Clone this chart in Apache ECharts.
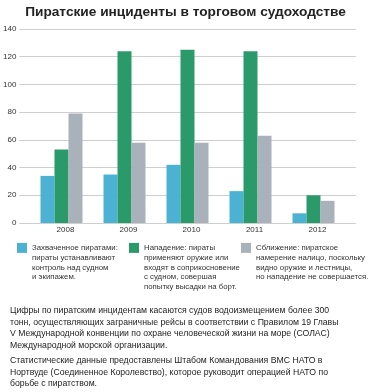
<!DOCTYPE html>
<html><head><meta charset="utf-8">
<script src="https://cdn.jsdelivr.net/npm/echarts@6/dist/echarts.min.js"></script>
<style>html,body{margin:0;padding:0;background:#fff}#c{width:371px;height:392px}</style>
</head><body><div id="c"></div>
<script>
const categories = ['2008', '2009', '2010', '2011', '2012'];
const seized = [34, 35, 42, 23, 7];
const attacked = [53, 124, 125, 124, 20];
const approached = [79, 58, 58, 63, 16];
const yTicks = [0, 20, 40, 60, 80, 100, 120, 140];

const names = ['Захваченное пиратами', 'Нападение', 'Сближение'];
const legendTexts = [
  'Захваченное пиратами:\nпираты устанавливают\nконтроль над судном\nи экипажем.',
  'Нападение: пираты\nприменяют оружие или\nвходят в соприкосновение\nс судном, совершая\nпопытку высадки на борт.',
  'Сближение: пиратское\nнамерение налицо, поскольку\nвидно оружие и лестницы,\nно нападение не совершается.'
];
const colors = ['#4cb2d4', '#2b9a6b', '#a9b1bb'];
const font = '"Liberation Sans", Arial, sans-serif';

const chart = echarts.init(document.getElementById('c'), null, {renderer: 'canvas'});
const LH = 9.8;
function legend(i, left, iconTop) {
  const n = legendTexts[i].split('\n').length;
  return {
    data: [names[i]],
    left: left,
    top: iconTop + 10 - 10 - LH * (n - 1),
    padding: 0,
    itemWidth: 10, itemHeight: 10, itemGap: 0,
    icon: 'rect',
    selectedMode: false,
    formatter: () => ' \n'.repeat(n - 1) + legendTexts[i],
    textStyle: {fontFamily: font, fontSize: 7.8, lineHeight: LH, color: '#333'}
  };
}
chart.setOption({
  animation: false,
  title: {
    text: 'Пиратские инциденты в торговом судоходстве',
    left: 'center', top: 0,
    textStyle: {fontFamily: font, fontSize: 13.7, fontWeight: 'bold', color: '#222'}
  },
  legend: [legend(0, 17, 243), legend(1, 129, 243), legend(2, 241, 243)],
  grid: [
    {left: 17, right: 15, top: 29, bottom: 169},
    {left: 30, right: 26, top: 29, bottom: 169}
  ],
  xAxis: [
    {gridIndex: 0, type: 'category', data: categories, show: false},
    {gridIndex: 1, type: 'category', data: categories,
     axisLine: {show: false}, axisTick: {show: false},
     axisLabel: {fontFamily: font, fontSize: 8, color: '#333', margin: 3, padding: [0, 0, 0, 8]}}
  ],
  yAxis: [
    {gridIndex: 0, type: 'value', min: 0, max: 140, interval: 20,
     axisLine: {show: false}, axisTick: {show: false},
     axisLabel: {fontFamily: font, fontSize: 8, color: '#333', margin: 3},
     splitLine: {lineStyle: {color: '#cfcfcf', width: 1}}},
    {gridIndex: 1, type: 'value', min: 0, max: 140, interval: 20, show: false, splitLine: {show: false}}
  ],
  series: [
    {name: names[0], type: 'bar', xAxisIndex: 1, yAxisIndex: 1, data: seized, barWidth: 14, barGap: '0%', itemStyle: {color: colors[0]}},
    {name: names[1], type: 'bar', xAxisIndex: 1, yAxisIndex: 1, data: attacked, barWidth: 14, barGap: '0%', itemStyle: {color: colors[1]}},
    {name: names[2], type: 'bar', xAxisIndex: 1, yAxisIndex: 1, data: approached, barWidth: 14, barGap: '0%', itemStyle: {color: colors[2]}}
  ],
  graphic: [
    {type: 'text', left: 10, top: 305, style: {
      text: 'Цифры по пиратским инцидентам касаются судов водоизмещением более 300\nтонн, осуществляющих заграничные рейсы в соответствии с Правилом 19 Главы\nV Международной конвенции по охране человеческой жизни на море (СОЛАС)\nМеждународной морской организации.',
      font: '8.7px ' + font, lineHeight: 11.5, fill: '#222'}},
    {type: 'text', left: 10, top: 355, style: {
      text: 'Статистические данные предоставлены Штабом Командования ВМС НАТО в\nНортвуде (Соединенное Королевство), которое руководит операцией НАТО по\nборьбе с пиратством.',
      font: '8.7px ' + font, lineHeight: 11.5, fill: '#222'}}
  ]
});
</script></body></html>
